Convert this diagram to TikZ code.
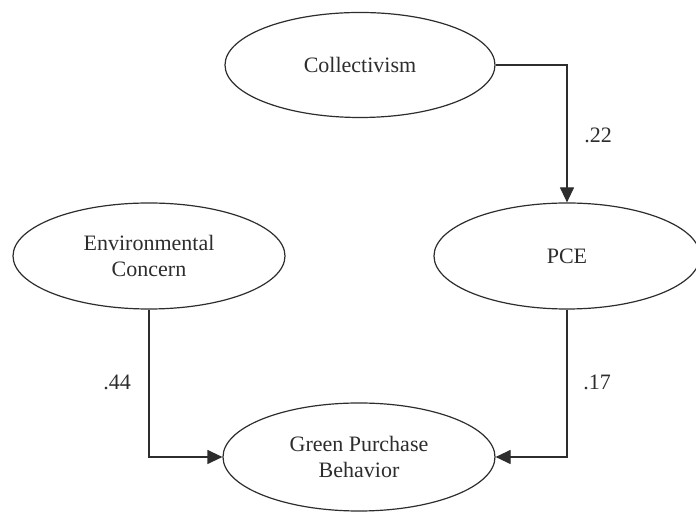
\documentclass[tikz,border=0pt]{standalone}
\usepackage{fontspec}
\setmainfont{Liberation Serif}
\usepackage{xcolor}
\usetikzlibrary{shapes.geometric,arrows.meta}
\definecolor{Ink}{RGB}{45,45,45}
\tikzset{
  construct/.style={ellipse, draw=Ink, line width=0.6pt, minimum width=135pt, minimum height=53pt, inner sep=0pt, align=center, text=Ink, font=\fontsize{11}{12.8}\selectfont},
  link/.style={draw=Ink, line width=0.6pt, -{Triangle[length=7.5pt,width=7pt]}},
  coef/.style={text=Ink, font=\fontsize{11}{13}\selectfont}
}
\begin{document}
\begin{tikzpicture}[x=0.5pt,y=-0.5pt]
\useasboundingbox[fill=white] (0,0) rectangle (696,512);
% constructs
\node[construct, minimum height=52.5pt] (coll) at (360,65) {Collectivism};
\node[construct, minimum width=136pt] (env) at (149,256) {Environmental\\Concern};
\node[construct, minimum width=133pt] (pce) at (567,256) {PCE};
\node[construct, minimum width=136pt, minimum height=54pt] (gpb) at (359,457) {Green Purchase\\Behavior};
% paths
\draw[link] (coll.east) -| (pce.north);
\draw[link] (env.south) |- (gpb.west);
\draw[link] (pce.south) |- (gpb.east);
% coefficients
\node[coef] (c22) at (598,135) {.22};
\node[coef] (c44) at (117,382) {.44};
\node[coef] (c17) at (597,382) {.17};
\end{tikzpicture}
\end{document}
